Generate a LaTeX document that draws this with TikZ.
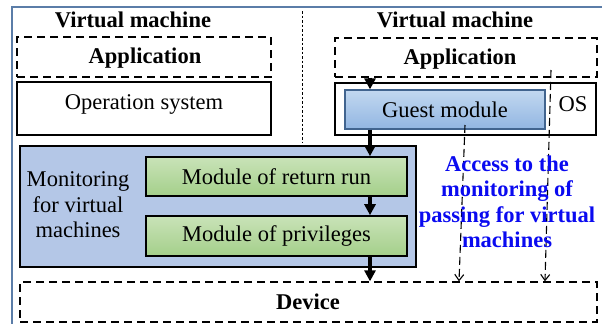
\documentclass[tikz,border=0pt]{standalone}
\usepackage{fontspec}
\setmainfont{Liberation Serif}
\newfontfamily\tnr{Liberation Serif}
\usetikzlibrary{arrows.meta,positioning,calc}
\definecolor{frame}{HTML}{5B7DA8}
\definecolor{monfill}{HTML}{B4C7E7}
\definecolor{grtop}{HTML}{C9E3B8}
\definecolor{grbot}{HTML}{A4CF8A}
\definecolor{gstop}{HTML}{C2D8F0}
\definecolor{gsbot}{HTML}{92B6E2}
\definecolor{gsline}{HTML}{41648F}
\definecolor{accblue}{HTML}{0A0AF0}

\begin{document}
\begin{tikzpicture}[x=1pt,y=-1pt,
                    every node/.style={font=\tnr\fontsize{22.5}{25.5}\selectfont,inner sep=0pt},
                    ttl/.style={font=\tnr\fontsize{22.5}{25.5}\selectfont\bfseries},
                    dbox/.style={draw,line width=1.3pt,dash pattern=on 8pt off 5pt},
                    sbox/.style={draw,line width=1.3pt},
                    modbox/.style={draw,line width=1.6pt,top color=grtop,bottom color=grbot,minimum width=261pt,minimum height=39pt},
                    flow/.style={-{Triangle[length=11pt,width=11pt]},line width=3.2pt},
                    pass/.style={-{Straight Barb[length=6pt,width=9pt]},line width=1.1pt,dash pattern=on 8pt off 4pt}]
  \useasboundingbox (0,0) rectangle (602,324);
  % frame
  \draw[frame,line width=1.2pt] (602,7) -- (12,7) -- (12,324);
  \draw[line width=1pt,dash pattern=on 2.5pt off 2pt] (302,11) -- (302,143);
  % left machine
  \node[ttl] (vml) at (133,20) {Virtual machine};
  \node[dbox,minimum width=254pt,minimum height=40pt] (appl) at (144,57) {};
  \node[ttl] (appltxt) at (145,58) {Application};
  \node[sbox,minimum width=254pt,minimum height=53pt] (osl) at (144,108.5) {};
  \node (osltxt) at (144,104) {Operation system};
  % right machine
  \node[ttl] (vmr) at (455,20) {Virtual machine};
  \node[dbox,minimum width=262pt,minimum height=39pt] (appr) at (466,57.5) {};
  \node[ttl] (apprtxt) at (460,59) {Application};
  \node[sbox,minimum width=261pt,minimum height=52pt] (osr) at (465.5,109) {};
  \node (osrtxt) at (573,104) {OS};
  \node[draw=gsline,line width=1.3pt,top color=gstop,bottom color=gsbot,minimum width=200pt,minimum height=39pt] (guest) at (445,109.5) {Guest module};
  % monitor
  \node[draw,line width=1.3pt,fill=monfill,minimum width=396pt,minimum height=121pt] (mon) at (218,206.5) {};
  \node[align=center] (montxt) at (78,205) {Monitoring\\for virtual\\machines};
  \node[modbox] (ret) at (276.5,176.5) {Module of return run};
  \node[modbox,minimum height=40pt] (priv) at (276.5,236) {Module of privileges};
  % device
  \node[dbox,minimum width=577pt,minimum height=40pt] (dev) at (308.5,302) {};
  \node[ttl] (devtxt) at (308,302) {Device};
  % call path
  \coordinate (cx) at (370,0);
  \draw[flow] (appr.south -| cx) -- (guest.north -| cx);
  \draw[flow] (guest.south -| cx) -- (ret.north -| cx);
  \draw[flow] (ret.south -| cx) -- (priv.north -| cx);
  \draw[flow] (priv.south -| cx) -- (dev.north -| cx);
  % passing
  \coordinate (p1) at (465,125);
  \coordinate (p2) at (551,70);
  \draw[pass] (p1) -- (dev.north -| 459,0);
  \draw[pass] (p2) -- (dev.north -| 545,0);
  \node[ttl,text=accblue,align=center] (acc) at (507,202) {Access to the\\monitoring of\\passing for virtual\\machines};
\end{tikzpicture}
\end{document}
